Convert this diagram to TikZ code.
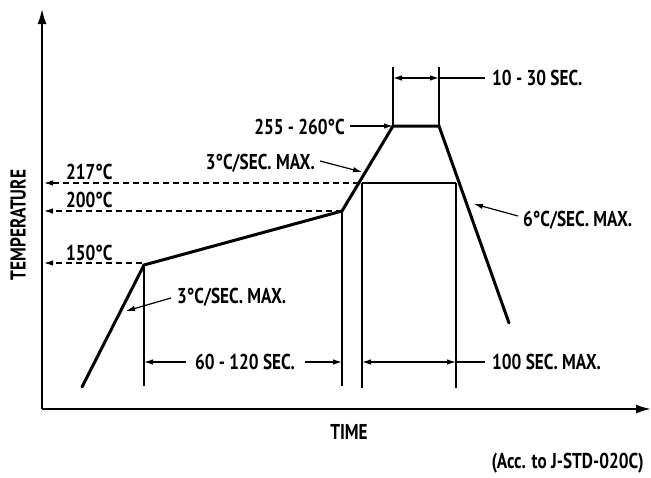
\documentclass[tikz,border=0pt]{standalone}
\usepackage{fontspec}
\setmainfont{PT Sans}[FakeStretch=0.80]
\usetikzlibrary{arrows.meta,calc}
\begin{document}
\begin{tikzpicture}[x=1pt,y=-1pt,
  lbl/.style={font=\fontsize{21.5}{23}\selectfont\bfseries, inner sep=0pt},
  axis/.style={line width=1.8pt, -{Latex[length=15pt,width=9pt]}},
  curve/.style={line width=3pt, line join=miter, line cap=round},
  thin/.style={line width=1.2pt},
  tip/.style={-{Latex[length=9pt,width=5.5pt]}},
  dashline/.style={line width=1.2pt, dash pattern=on 6.5pt off 3.5pt}]
\useasboundingbox (0,0) rectangle (651,477);
% axes
\coordinate (O) at (42,409);
\coordinate (Ytip) at (42,9);
\coordinate (Xtip) at (651,409);
\draw[axis] (O) -- (Ytip);
\draw[axis] (O) -- (Xtip);
% profile points
\coordinate (P0) at (82,387);
\coordinate (P1) at (144,265);
\coordinate (P2) at (342,211);
\coordinate (P3) at (393,126);
\coordinate (P4) at (439,126);
\coordinate (P5) at (509,323);
% dashed temperature levels
\coordinate (A217) at (44,183);
\coordinate (A200) at (44,211);
\coordinate (A150) at (44,263);
\coordinate (E217) at (359,183);
\coordinate (E150) at (142,263);
\draw[dashline, tip] (E217) -- (A217);
\draw[dashline, tip] (P2) -- (A200);
\draw[dashline, tip] (E150) -- (A150);
% vertical reference lines
\coordinate (V1t) at (144,265); \coordinate (V1b) at (144,386);
\coordinate (V2t) at (342,211); \coordinate (V2b) at (342,386);
\coordinate (V3t) at (362,183); \coordinate (V3b) at (362,388);
\coordinate (V4t) at (456,183); \coordinate (V4b) at (456,388);
\coordinate (T1) at (393,67); \coordinate (T2) at (439,67);
\draw[thin] (V1t) -- (V1b);
\draw[thin] (V2t) -- (V2b);
\draw[thin] (V3t) -- (V3b);
\draw[thin] (V4t) -- (V4b);
\draw[thin] (V3t) -- (V4t);
\draw[thin] (T1) -- (P3);
\draw[thin] (T2) -- (P4);
% profile curve
\draw[curve] (P0) -- (P1) -- (P2) -- (P3) -- (P4) -- (P5);
% labels
\node[lbl, anchor=west] (l217) at (66,172) {217°C};
\node[lbl, anchor=west] (l200) at (66,200) {200°C};
\node[lbl, anchor=west] (l150) at (66,253) {150°C};
\node[lbl, rotate=90] (ltemp) at (18,225) {TEMPERATURE};
\node[lbl] (ltime) at (349,432) {TIME};
\node[lbl, anchor=east] (lacc) at (644,463) {(Acc. to J-STD-020C)};
% 10-30 sec
\coordinate (D1) at (393,78); \coordinate (D2) at (439,78); \coordinate (D3) at (485,78);
\coordinate (Dm) at (416,78);
\draw[thin, tip] (Dm) -- (D1);
\draw[thin, tip] (Dm) -- (D2);
\draw[thin] (D2) -- (D3);
\node[lbl, anchor=west] (l1030) at (492,78) {10 - 30 SEC.};
% peak temp
\node[lbl, anchor=east] (lpeak) at (345,127) {255 - 260°C};
\coordinate (Pk) at (350,126);
\draw[thin, tip] (Pk) -- (P3);
% 3C/sec upper
\node[lbl, anchor=east] (lr1) at (315,163) {3°C/SEC. MAX.};
\coordinate (R1s) at (320,161);
\coordinate (R1tip) at (362,172);
\draw[thin, tip] (R1s) -- (R1tip);
% 6C/sec
\node[lbl, anchor=west] (lr3) at (523,220) {6°C/SEC. MAX.};
\coordinate (R3s) at (518,216);
\coordinate (R3tip) at (474,204);
\draw[thin, tip] (R3s) -- (R3tip);
% 3C/sec lower
\node[lbl, anchor=west] (lr2) at (177,297) {3°C/SEC. MAX.};
\coordinate (R2s) at (171,298);
\coordinate (R2tip) at (126,311);
\draw[thin, tip] (R2s) -- (R2tip);
% 60-120 sec
\node[lbl] (l60) at (245,362) {60 - 120 SEC.};
\coordinate (S1) at (144,362); \coordinate (S2) at (342,362);
\coordinate (S1s) at (186,362); \coordinate (S2s) at (305,362);
\draw[thin, tip] (S1s) -- (S1);
\draw[thin, tip] (S2s) -- (S2);
% 100 sec
\coordinate (H1) at (362,362); \coordinate (H2) at (456,362); \coordinate (H3) at (485,362);
\coordinate (Hm) at (409,362);
\draw[thin, tip] (Hm) -- (H1);
\draw[thin, tip] (Hm) -- (H2);
\draw[thin] (H2) -- (H3);
\node[lbl, anchor=west] (l100) at (492,362) {100 SEC. MAX.};
\end{tikzpicture}
\end{document}
